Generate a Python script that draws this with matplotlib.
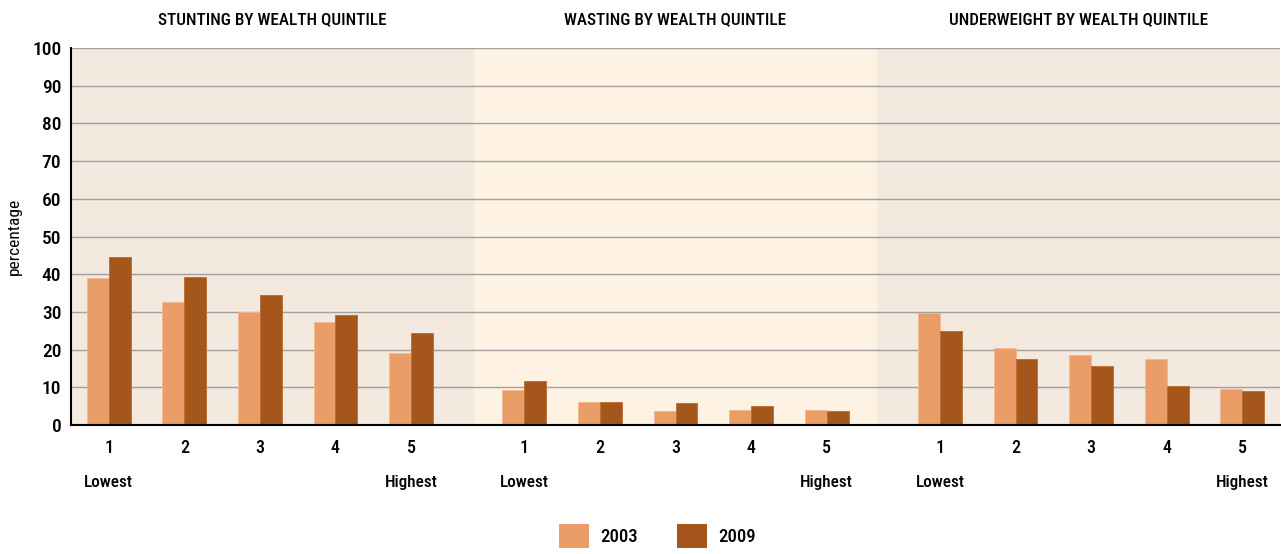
import matplotlib
matplotlib.use("Agg")
import matplotlib.pyplot as plt
from matplotlib import font_manager
import numpy as np

panels = ["STUNTING BY WEALTH QUINTILE", "WASTING BY WEALTH QUINTILE", "UNDERWEIGHT BY WEALTH QUINTILE"]
quintiles = ["1", "2", "3", "4", "5"]
years = ["2003", "2009"]
stunting_2003 = [39.0, 32.7, 30.0, 27.4, 19.2]
stunting_2009 = [44.5, 39.3, 34.6, 29.2, 24.5]
wasting_2003 = [9.2, 6.0, 3.7, 4.1, 3.9]
wasting_2009 = [11.6, 6.0, 5.8, 5.0, 3.8]
underweight_2003 = [29.7, 20.4, 18.5, 17.4, 9.6]
underweight_2009 = [25.0, 17.5, 15.7, 10.4, 8.9]
yticks = [0, 10, 20, 30, 40, 50, 60, 70, 80, 90, 100]

names = {f.name for f in font_manager.fontManager.ttflist}
fam = "DejaVu Sans"
for cand in ["Roboto Condensed", "Liberation Sans Narrow", "Open Sans Condensed", "Noto Sans Condensed"]:
    if cand in names:
        fam = cand
        break
plt.rcParams["font.family"] = [fam, "DejaVu Sans"]
plt.rcParams["font.weight"] = "medium"

c03 = "#eb9d68"
c09 = "#a5561a"
panel_bg = ["#f3e9df", "#fef3e2", "#f3e9df"]

fig = plt.figure(figsize=(12.81, 5.54), dpi=100)
ax = fig.add_axes([71/1281, 1 - 425/554, (1280-71)/1281, (425-48)/554])

data03 = [stunting_2003, wasting_2003, underweight_2003]
data09 = [stunting_2009, wasting_2009, underweight_2009]
gap = 5.5
pw = 16/3.0
w = 0.29
ax.set_xlim(-0.5, 15.5)
ax.set_ylim(0, 100)
for g in range(3):
    left = -0.5 + g*pw
    ax.axvspan(left, left+pw, color=panel_bg[g], zorder=0, lw=0)
for y in yticks[1:]:
    ax.axhline(y, color="#a0a0a0", lw=1.0, zorder=1)
for g in range(3):
    x = np.arange(len(quintiles)) + g*gap
    ax.bar(x - w/2, data03[g], width=w, color=c03, edgecolor="#f2b88f", lw=0.6, zorder=2)
    ax.bar(x + w/2, data09[g], width=w, color=c09, edgecolor="#b86a33", lw=0.6, zorder=2)
    for i, q in enumerate(quintiles):
        ax.text(x[i], -6.2, q, ha="center", va="center", fontsize=13)
    ax.text(x[0], -15.3, "Lowest", ha="center", va="center", fontsize=12.3)
    ax.text(x[-1], -15.3, "Highest", ha="center", va="center", fontsize=12.3)
    ax.text(-0.5 + g*pw + pw/2, 107.5, panels[g], ha="center", va="center", fontsize=12.3)

ax.set_yticks(yticks)
ax.set_yticklabels([str(t) for t in yticks], fontsize=14)
ax.tick_params(axis="y", length=0, pad=7)
ax.set_xticks([])
for s in ["top", "right"]:
    ax.spines[s].set_visible(False)
ax.spines["left"].set_linewidth(1.5)
ax.spines["bottom"].set_linewidth(1.5)
ax.set_ylabel("percentage", fontsize=12.5, fontweight="normal")
ax.yaxis.set_label_coords(-49/1209, 0.5)

from matplotlib.patches import Patch
handles = [Patch(facecolor=c03), Patch(facecolor=c09)]
fig.legend(handles, years, loc="lower center", bbox_to_anchor=(0.513, -0.02), ncol=2,
           frameon=False, fontsize=13.5, handlelength=1.6, handleheight=1.6,
           columnspacing=2.1, handletextpad=0.6)

fig.savefig("out.png", dpi=100)
